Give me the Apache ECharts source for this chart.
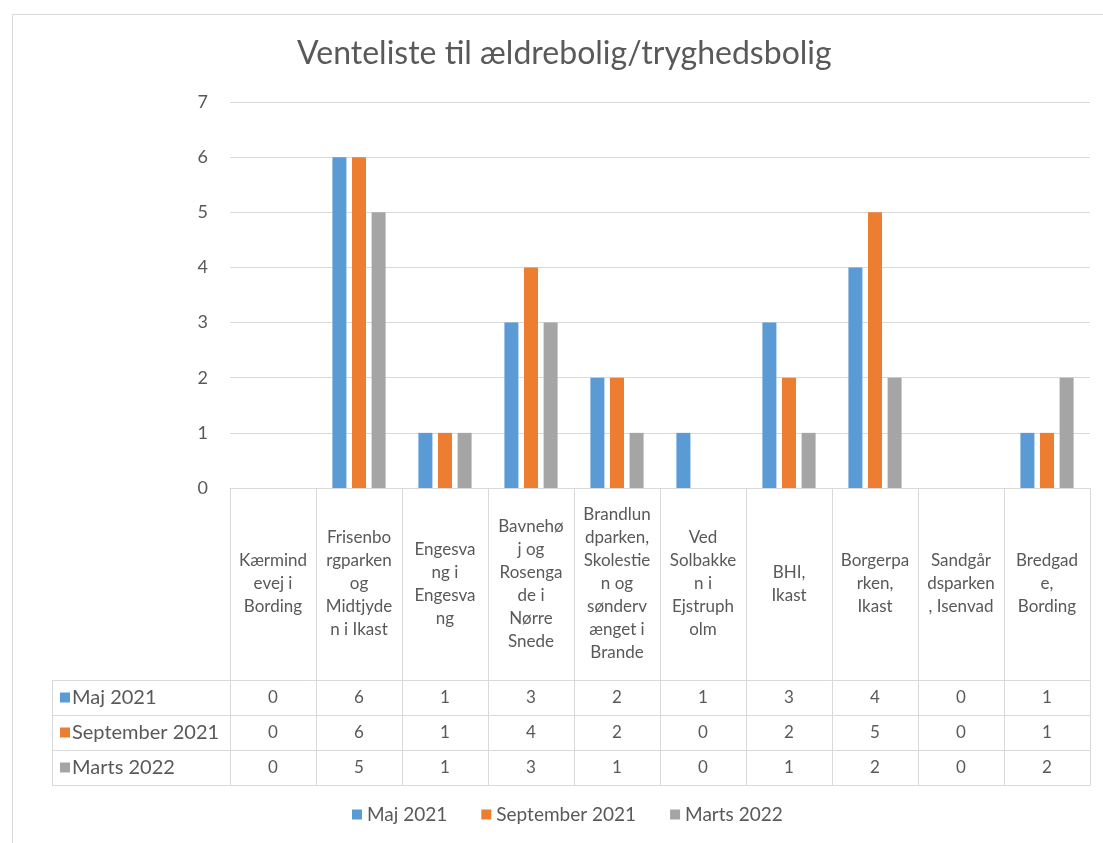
<!DOCTYPE html>
<html>
<head>
<meta charset="utf-8">
<script src="https://cdn.jsdelivr.net/npm/echarts@6/dist/echarts.min.js"></script>
<style>html,body{margin:0;padding:0;background:#fff}#c{width:1103px;height:843px}</style>
</head>
<body>
<div id="c"></div>
<script>
const title = 'Venteliste til ældrebolig/tryghedsbolig';
const categories = [
  'Kærmind\nevej i\nBording',
  'Frisenbo\nrgparken\nog\nMidtjyde\nn i Ikast',
  'Engesva\nng i\nEngesva\nng',
  'Bavnehø\nj og\nRosenga\nde i\nNørre\nSnede',
  'Brandlun\ndparken,\nSkolestie\nn og\nsønderv\nænget i\nBrande',
  'Ved\nSolbakke\nn i\nEjstruph\nolm',
  'BHI,\nIkast',
  'Borgerpa\nrken,\nIkast',
  'Sandgår\ndsparken\n, Isenvad',
  'Bredgad\ne,\nBording'
];
const seriesNames = ['Maj 2021', 'September 2021', 'Marts 2022'];
const maj2021 = [0, 6, 1, 3, 2, 1, 3, 4, 0, 1];
const sep2021 = [0, 6, 1, 4, 2, 0, 2, 5, 0, 1];
const marts2022 = [0, 5, 1, 3, 1, 0, 1, 2, 0, 2];
const yTicks = [0, 1, 2, 3, 4, 5, 6, 7];
const colors = ['#5B9BD5', '#ED7D31', '#A5A5A5'];

const values = [maj2021, sep2021, marts2022];
const FONT = 'Lato, "Open Sans", sans-serif';
const TXT = '#595959';
const LINE = '#d9d9d9';
const GL = 230, GR = 1090, GT = 102, G0 = 488;
const HEAD_BOTTOM = 680, ROW_H = 35, TABLE_L = 52;

const chart = echarts.init(document.getElementById('c'));

const xAxes = [{
  type: 'category', data: categories, gridIndex: 0,
  axisLine: {show: true, lineStyle: {color: LINE}},
  axisTick: {show: false},
  axisLabel: {interval: 0, color: TXT, fontFamily: FONT, fontSize: 17, lineHeight: 23,
    verticalAlign: 'middle', align: 'center', margin: (HEAD_BOTTOM - G0) / 2}
}];
values.forEach((arr, i) => {
  xAxes.push({
    type: 'category', data: categories, gridIndex: 0, position: 'bottom',
    axisLine: {show: false}, axisTick: {show: false}, splitLine: {show: false},
    axisLabel: {interval: 0, color: TXT, fontFamily: FONT, fontSize: 17,
      verticalAlign: 'middle', margin: HEAD_BOTTOM - G0 + ROW_H * i + ROW_H / 2,
      formatter: (v, idx) => String(arr[idx])}
  });
});

const graphics = [];
graphics.push({type: 'rect', shape: {x: 12.5, y: 14.5, width: 1100, height: 840},
  style: {fill: null, stroke: LINE, lineWidth: 1}, silent: true});
const N = categories.length;
const cw = (GR - GL) / N;
for (let i = 0; i <= N; i++) {
  const x = Math.round(GL + i * cw) + 0.5;
  graphics.push({type: 'line', shape: {x1: x, y1: G0, x2: x, y2: HEAD_BOTTOM + ROW_H * 3},
    style: {stroke: LINE, lineWidth: 1}, silent: true});
}
graphics.push({type: 'line', shape: {x1: TABLE_L + 0.5, y1: HEAD_BOTTOM, x2: TABLE_L + 0.5, y2: HEAD_BOTTOM + ROW_H * 3},
  style: {stroke: LINE, lineWidth: 1}, silent: true});
for (let r = 0; r <= 3; r++) {
  const y = HEAD_BOTTOM + r * ROW_H + 0.5;
  graphics.push({type: 'line', shape: {x1: TABLE_L, y1: y, x2: GR + 0.5, y2: y},
    style: {stroke: LINE, lineWidth: 1}, silent: true});
}
seriesNames.forEach((name, i) => {
  const cy = HEAD_BOTTOM + ROW_H * i + ROW_H / 2;
  graphics.push({type: 'rect', shape: {x: 60, y: cy - 5, width: 10, height: 10},
    style: {fill: colors[i]}, silent: true});
  graphics.push({type: 'text', x: 72, y: cy, style: {text: name, fill: TXT, font: '20px ' + FONT,
    verticalAlign: 'middle', align: 'left'}, silent: true});
});

chart.setOption({
  backgroundColor: '#ffffff',
  color: colors,
  animation: false,
  title: {text: title, left: 292, top: 33,
    textStyle: {color: TXT, fontFamily: FONT, fontSize: 32, fontWeight: 'normal'}},
  legend: {bottom: 14, left: 347, itemWidth: 10, itemHeight: 10, itemGap: 34,
    icon: 'rect', data: seriesNames,
    textStyle: {color: TXT, fontFamily: FONT, fontSize: 19}},
  grid: {left: GL, right: 1103 - GR, top: GT, bottom: 843 - G0, containLabel: false},
  xAxis: xAxes,
  yAxis: {type: 'value', min: yTicks[0], max: yTicks[yTicks.length - 1], interval: 1,
    axisLine: {show: false}, axisTick: {show: false},
    axisLabel: {color: TXT, fontFamily: FONT, fontSize: 18, margin: 22},
    splitLine: {lineStyle: {color: LINE}}},
  series: values.map((arr, i) => ({
    name: seriesNames[i], type: 'bar', data: arr, xAxisIndex: 0,
    barWidth: 14, barGap: '40%'
  })),
  graphic: graphics
});
</script>
</body>
</html>
